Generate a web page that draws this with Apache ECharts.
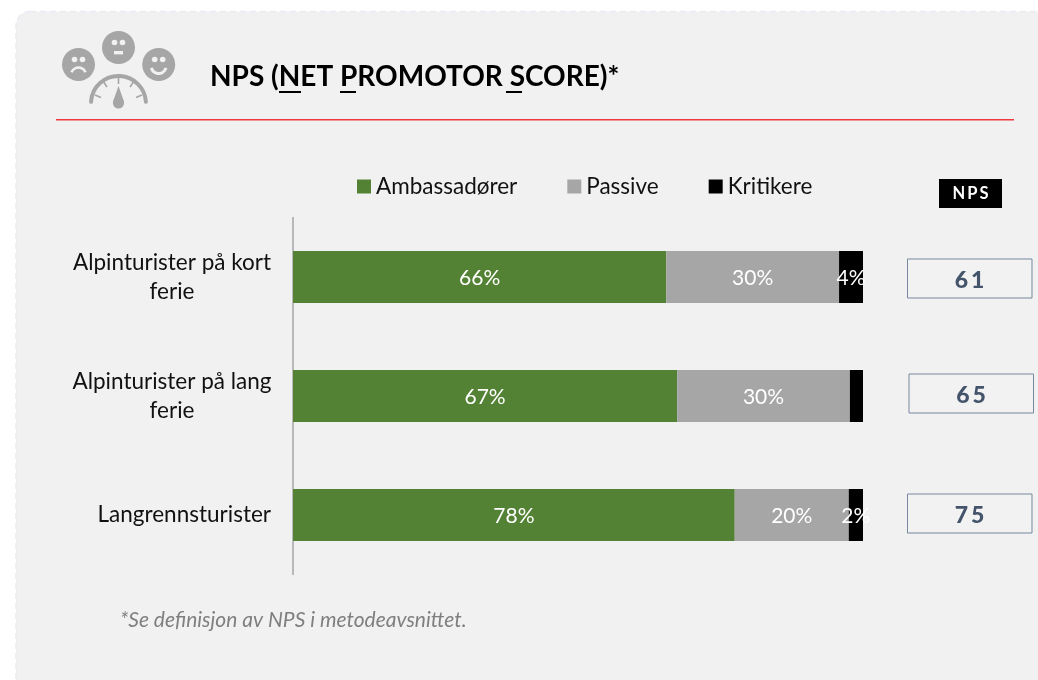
<!DOCTYPE html>
<html>
<head>
<meta charset="utf-8">
<style>
	html, body { margin: 0; padding: 0; background: #fff; }
	#myChart { width: 1038px; height: 680px; }
</style>
<script src="https://cdn.jsdelivr.net/npm/echarts@6/dist/echarts.min.js"></script>
</head>
<body>
<div id="myChart"></div>
<script>
	var categories = ['Alpinturister på kort\nferie', 'Alpinturister på lang\nferie', 'Langrennsturister'];
	var ambassadorer = [65.5, 67.4, 77.5];
	var passive = [30.3, 30.3, 20.0];
	var kritikere = [4.2, 2.3, 2.5];
	var kritikereLabels = ['4%', '', '2%'];
	var npsScores = [61, 65, 75];
	// the NPS boxes are not quite lined up in the original
	var npsBoxX = [907.5, 909, 907.5];
	var npsBoxDy = [1.5, -2.5, -1.5];

	var fontName = 'Lato';
	var gray = '#a6a6a6';
	var paper = '#f1f1f1';

	function spaced(s) {
		return String(s).split('').join('\u2009');
	}

	function pctLabel(p) {
		return Math.round(p.value) + '%';
	}

	function face(cx, cy, mouth) {
		return [
			{ type: 'circle', shape: { cx: cx, cy: cy, r: 16.5 }, style: { fill: gray } },
			{ type: 'circle', shape: { cx: cx - 4, cy: cy - 5, r: 2.8 }, style: { fill: paper } },
			{ type: 'circle', shape: { cx: cx + 4, cy: cy - 5, r: 2.8 }, style: { fill: paper } },
			mouth
		];
	}

	var iconParts = [].concat(
		face(78.5, 64.5, { type: 'arc', shape: { cx: 78.5, cy: 75, r: 7.5, startAngle: Math.PI * 1.12, endAngle: Math.PI * 1.88 }, style: { stroke: paper, lineWidth: 2.6, fill: null } }),
		face(118.5, 47.5, { type: 'rect', shape: { x: 114, y: 51, width: 9, height: 3.4 }, style: { fill: paper } }),
		face(158.7, 64.5, { type: 'arc', shape: { cx: 158.7, cy: 66, r: 7.5, startAngle: Math.PI * 0.08, endAngle: Math.PI * 0.92 }, style: { stroke: paper, lineWidth: 3, fill: null } }),
		[
			{ type: 'arc', shape: { cx: 118.5, cy: 103.5, r: 27.5, startAngle: Math.PI * 1.02, endAngle: Math.PI * 1.98 }, style: { stroke: gray, lineWidth: 4, fill: null, lineCap: 'round' } },
			{ type: 'line', shape: { x1: 118.5, y1: 77, x2: 118.5, y2: 84 }, style: { stroke: gray, lineWidth: 1.6 } },
			{ type: 'line', shape: { x1: 103, y1: 81, x2: 107, y2: 87 }, style: { stroke: gray, lineWidth: 1.6 } },
			{ type: 'line', shape: { x1: 134, y1: 81, x2: 130, y2: 87 }, style: { stroke: gray, lineWidth: 1.6 } },
			{ type: 'line', shape: { x1: 95, y1: 95, x2: 101, y2: 97.5 }, style: { stroke: gray, lineWidth: 1.6 } },
			{ type: 'line', shape: { x1: 142, y1: 95, x2: 136, y2: 97.5 }, style: { stroke: gray, lineWidth: 1.6 } },
			{ type: 'circle', shape: { cx: 118.5, cy: 103, r: 5.6 }, style: { fill: gray } },
			{ type: 'polygon', shape: { points: [[118.5, 86], [123.8, 101], [113.2, 101]] }, style: { fill: gray } }
		]
	);

	var myChart = echarts.init(document.getElementById('myChart'), null, { renderer: 'canvas' });

	var option = {
		backgroundColor: '#ffffff',
		animation: false,
		textStyle: { fontFamily: fontName },
		legend: {
			data: ['Ambassadører', 'Passive', 'Kritikere'],
			icon: 'rect',
			left: 352,
			top: 170,
			itemWidth: 14,
			itemHeight: 14,
			itemGap: 50,
			textStyle: { color: '#111', fontSize: 22.5, fontFamily: fontName }
		},
		grid: { left: 293, top: 217.5, width: 570, height: 357, containLabel: false },
		xAxis: { type: 'value', min: 0, max: 100, show: false },
		yAxis: {
			type: 'category',
			data: categories,
			inverse: true,
			axisTick: { show: false },
			axisLine: { lineStyle: { color: gray, width: 1.5 } },
			axisLabel: {
				margin: 22,
				formatter: function (v) {
					if (v.indexOf('\n') < 0) return '{s|' + v + '}';
					return v.split('\n').map(function (l) { return '{c|' + l + '}'; }).join('\n');
				},
				rich: {
					c: { width: 198, align: 'center', lineHeight: 29, fontSize: 22.5, color: '#111', fontFamily: fontName },
					s: { fontSize: 22.5, color: '#111', fontFamily: fontName }
				}
			}
		},
		series: [
			{
				name: 'Ambassadører', type: 'bar', stack: 'nps', barWidth: 52,
				itemStyle: { color: '#548235' },
				label: { show: true, position: 'inside', offset: [0, 1], color: '#fff', fontSize: 21, formatter: pctLabel },
				data: ambassadorer
			},
			{
				name: 'Passive', type: 'bar', stack: 'nps', barWidth: 52,
				itemStyle: { color: gray },
				label: { show: true, position: 'inside', offset: [0, 1], color: '#fff', fontSize: 21, formatter: pctLabel },
				data: passive
			},
			{
				name: 'Kritikere', type: 'bar', stack: 'nps', barWidth: 52,
				itemStyle: { color: '#000' },
				label: {
					show: true, position: 'inside', offset: [0, 1], color: '#fff', fontSize: 21,
					formatter: function (p) { return kritikereLabels[p.dataIndex]; }
				},
				data: kritikere
			},
			{
				name: 'NPS', type: 'custom', clip: false,
				encode: { x: 0, y: 1 },
				data: npsScores.map(function (v, i) { return [0, i, v]; }),
				renderItem: function (params, api) {
					var i = params.dataIndex;
					var y = api.coord([0, i])[1] + npsBoxDy[i];
					return {
						type: 'group',
						children: [
							{
								type: 'rect',
								shape: { x: npsBoxX[i], y: y - 19.5, width: 124.5, height: 39 },
								style: { fill: '#f2f2f2', stroke: '#76879f', lineWidth: 1 }
							},
							{
								type: 'text',
								style: {
									x: npsBoxX[i] + 62, y: y + 2, text: spaced(api.value(2)),
									fill: '#44546a', font: '900 23px ' + fontName,
									align: 'center', verticalAlign: 'middle'
								}
							}
						]
					};
				}
			}
		],
		graphic: [
			// panel, runs off the right and bottom of the page
			{
				type: 'rect', z: -10,
				shape: { x: 16, y: 11.5, width: 1080, height: 720, r: 14 },
				style: { fill: paper, stroke: '#e9ebf3', lineWidth: 1.5, lineDash: [6, 4] }
			},
			{ type: 'group', z: 5, children: iconParts },
			{
				type: 'text', z: 5,
				style: { x: 210, y: 77, text: 'NPS (NET PROMOTOR SCORE)*', fill: '#000', font: 'bold 28px ' + fontName, verticalAlign: 'middle' }
			},
			{ type: 'rect', z: 5, shape: { x: 279, y: 91, width: 22, height: 2 }, style: { fill: '#000' } },
			{ type: 'rect', z: 5, shape: { x: 340, y: 91, width: 16, height: 2 }, style: { fill: '#000' } },
			{ type: 'rect', z: 5, shape: { x: 506, y: 91, width: 16, height: 2 }, style: { fill: '#000' } },
			{ type: 'rect', z: 5, shape: { x: 56, y: 119, width: 958, height: 1.6 }, style: { fill: '#ee3b42' } },
			{ type: 'rect', z: 5, shape: { x: 939, y: 179, width: 63, height: 29 }, style: { fill: '#000' } },
			{
				type: 'text', z: 6,
				style: { x: 970.5, y: 194, text: spaced('NPS'), fill: '#fff', font: 'bold 16.5px ' + fontName, align: 'center', verticalAlign: 'middle' }
			},
			{
				type: 'text', z: 5,
				style: { x: 120, y: 620, text: '*Se definisjon av NPS i metodeavsnittet.', fill: '#7f7f7f', font: 'italic 21px ' + fontName, verticalAlign: 'middle' }
			}
		]
	};

	myChart.setOption(option);
</script>
</body>
</html>
